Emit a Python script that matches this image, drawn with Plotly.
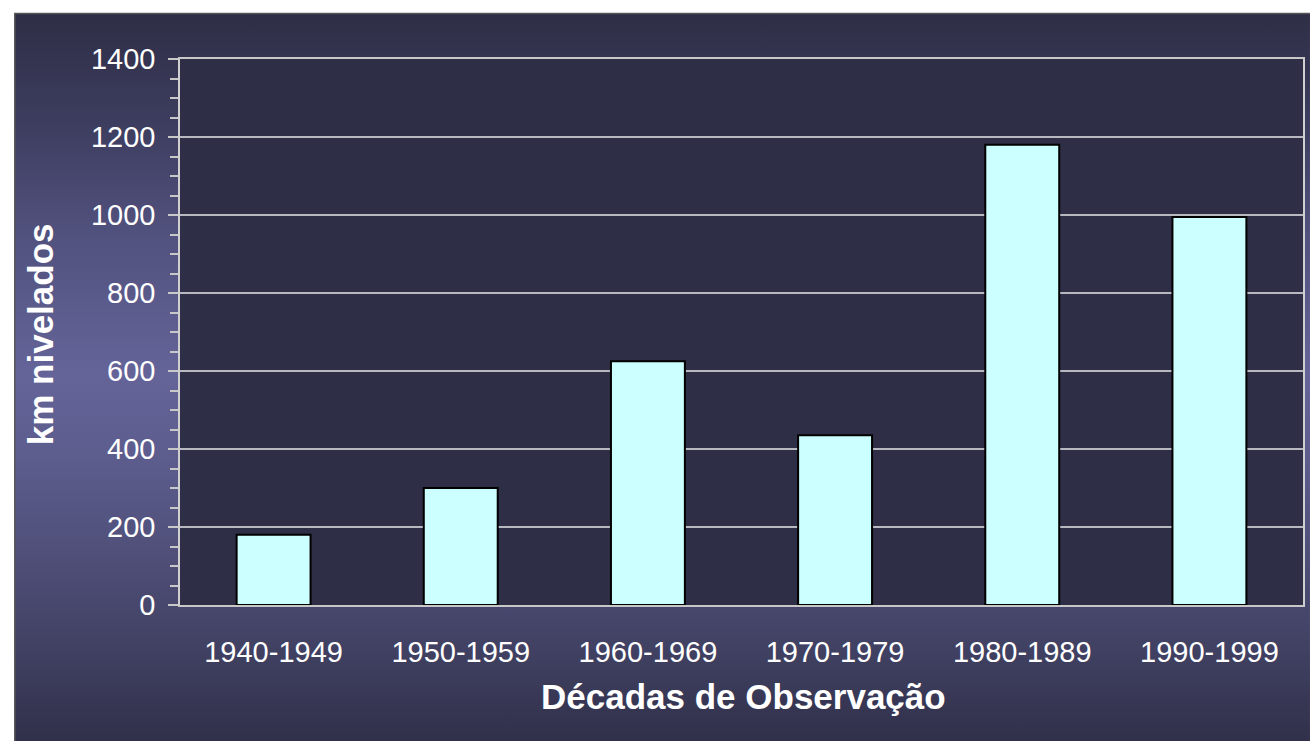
import base64
import plotly.graph_objects as go

decades = ["1940-1949", "1950-1959", "1960-1969", "1970-1979", "1980-1989", "1990-1999"]
km_nivelados = [180, 300, 625, 435, 1180, 995]
y_ticks = [0, 200, 400, 600, 800, 1000, 1200, 1400]

W, H = 1312, 741
L, R, T, B = 180, 7, 59, 136
pw, ph = W - L - R, H - T - B

svg = f'''<svg xmlns="http://www.w3.org/2000/svg" width="{W}" height="{H}" viewBox="0 0 {W} {H}" preserveAspectRatio="none">
<defs><linearGradient id="g" x1="0" y1="0" x2="0" y2="1">
<stop offset="0" stop-color="#2e2e46"/>
<stop offset="0.14" stop-color="#3c3c5e"/>
<stop offset="0.30" stop-color="#52527f"/>
<stop offset="0.48" stop-color="#646499"/>
<stop offset="0.62" stop-color="#5a5a8a"/>
<stop offset="0.82" stop-color="#444468"/>
<stop offset="1" stop-color="#2c2c44"/>
</linearGradient></defs>
<rect x="0" y="0" width="{W}" height="{H}" fill="#ffffff"/>
<rect x="14.5" y="13.5" width="{W+10}" height="{H+10}" fill="url(#g)" stroke="#555555" stroke-width="1.5"/>
</svg>'''
src = "data:image/svg+xml;base64," + base64.b64encode(svg.encode()).decode()

fig = go.Figure()
fig.add_trace(go.Bar(
    x=decades, y=km_nivelados,
    marker=dict(color="#ccffff", line=dict(color="#000000", width=2)),
    width=0.395,
))

fig.add_layout_image(dict(
    source=src, xref="paper", yref="paper",
    x=-L / pw, y=1 + T / ph, sizex=W / pw, sizey=H / ph,
    xanchor="left", yanchor="top", sizing="stretch", layer="below",
))
fig.add_shape(type="rect", xref="x domain", yref="y domain", x0=0, x1=1, y0=0, y1=1,
              fillcolor="#2e2e46", line=dict(width=0), layer="below")

tickfont = dict(family="Liberation Sans, Arial, sans-serif", size=29, color="#ffffff")
fig.update_layout(
    width=W, height=H,
    margin=dict(l=L, r=R, t=T, b=B, pad=0),
    paper_bgcolor="rgba(0,0,0,0)",
    plot_bgcolor="rgba(0,0,0,0)",
    showlegend=False,
    bargap=0.605,
    xaxis=dict(
        type="category", showgrid=False, showline=True, linecolor="#c8c8c8", linewidth=1.5,
        mirror=True, ticks="outside", ticklen=20, tickcolor="rgba(0,0,0,0)",
        tickfont=tickfont, zeroline=False,
    ),
    yaxis=dict(
        range=[0, 1400], tickvals=y_ticks, showgrid=True, gridcolor="#b8b8c0", gridwidth=1.5,
        showline=True, linecolor="#d0d0d0", linewidth=1.5, mirror=True,
        ticks="outside", ticklen=10, tickcolor="#c8c8c8", tickwidth=1.5,
        minor=dict(dtick=50, ticks="outside", ticklen=8, tickcolor="#c8c8c8", tickwidth=1.5, showgrid=False),
        tickfont=tickfont, ticklabelstandoff=7, zeroline=False,
    ),
)
fig.add_annotation(text="<b>km nivelados</b>", xref="paper", yref="paper",
                   x=(40 - L) / pw, y=(H - B - 334) / ph, textangle=-90, showarrow=False,
                   xanchor="center", yanchor="middle",
                   font=dict(family="Liberation Sans, Arial, sans-serif", size=35, color="#ffffff"))
fig.add_annotation(text="<b>Décadas de Observação</b>", xref="paper", yref="paper",
                   x=(745 - L) / pw, y=(H - B - 696) / ph, showarrow=False,
                   xanchor="center", yanchor="middle",
                   font=dict(family="Liberation Sans, Arial, sans-serif", size=35, color="#ffffff"))
fig.write_html("out.html", config={"displayModeBar": False},
               post_script="document.body.style.margin='0';document.body.style.overflow='hidden';")
